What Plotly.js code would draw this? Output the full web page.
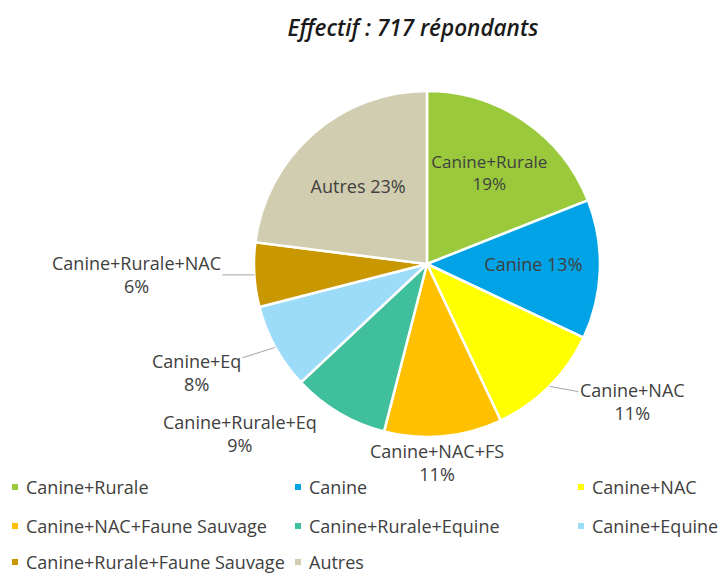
<!DOCTYPE html>
<html>
<head>
<meta charset="utf-8">
<script src="https://cdn.plot.ly/plotly-3.0.1.min.js"></script>
<style>html,body{margin:0;padding:0;background:#fff;}#chart{width:724px;height:575px;}</style>
</head>
<body>
<div id="chart"></div>
<script>
// Data
const legendNames = ["Canine+Rurale", "Canine", "Canine+NAC", "Canine+NAC+Faune Sauvage", "Canine+Rurale+Equine", "Canine+Equine", "Canine+Rurale+Faune Sauvage", "Autres"];
const sliceNames = ["Canine+Rurale", "Canine", "Canine+NAC", "Canine+NAC+FS", "Canine+Rurale+Eq", "Canine+Eq", "Canine+Rurale+NAC", "Autres"];
const percents = [19, 13, 11, 11, 9, 8, 6, 23];
const titleText = "Effectif : 717 répondants";

// Styles
const colors = ["#9ACA3C", "#00A3E6", "#FFFF00", "#FFC000", "#3FBF9B", "#9DDCF9", "#C99700", "#D1CDB0"];
const inside = [true, true, false, false, false, false, false, true];
const oneLine = [false, true, false, false, false, false, false, true];
// outside label placement relative to the slice's rim point (pixels), and leader line flag
const labelOffset = [null, null, [83, 15], [-6, 26], [-99, 21], [-79, 25], [-118, 0], null];
const leader = [false, false, true, false, false, true, true, false];
const FONT = "'Open Sans', Lato, sans-serif";
const TXT = "#404040";
const W = 724, H = 575;
const CX = 427, CY = 264, R = 173;

const trace = {
  type: "pie",
  labels: legendNames,
  values: percents,
  customdata: sliceNames,
  texttemplate: oneLine.map(o => o ? "%{customdata} %{percent:.0%}" : "%{customdata}<br>%{percent:.0%}"),
  textposition: inside.map(v => v ? "inside" : "none"),
  insidetextorientation: "horizontal",
  hoverinfo: "label+percent",
  sort: false,
  direction: "clockwise",
  rotation: 0,
  showlegend: false,
  marker: { colors: colors, line: { color: "#ffffff", width: 2.5 } },
  textfont: { family: FONT, size: 18, color: TXT },
  insidetextfont: { family: FONT, size: 18, color: TXT },
  domain: { x: [(CX - R) / W, (CX + R) / W], y: [1 - (CY + R) / H, 1 - (CY - R) / H] },
  automargin: false
};

const shapes = [], annotations = [];

// Outside slice labels anchored at the slice's mid-angle on the rim (computed from the values)
const total = percents.reduce((a, b) => a + b, 0);
let cum = 0;
percents.forEach((v, i) => {
  const mid = (cum + v / 2) / total;
  cum += v;
  if (inside[i]) return;
  const th = mid * 2 * Math.PI;
  const px = CX + R * Math.sin(th), py = CY - R * Math.cos(th);
  const [dx, dy] = labelOffset[i];
  const text = sliceNames[i] + "<br>" + Math.round(v / total * 100) + "%";
  const base = {
    xref: "paper", yref: "paper", x: px / W, y: 1 - py / H,
    text: text, font: { family: FONT, size: 18, color: TXT },
    align: "center", xanchor: "center", yanchor: "middle"
  };
  if (leader[i]) {
    annotations.push(Object.assign(base, {
      showarrow: true, arrowhead: 0, arrowwidth: 1, arrowcolor: "#A6A6A6",
      standoff: 0, startstandoff: 0, ax: dx, ay: dy
    }));
  } else {
    annotations.push(Object.assign(base, { showarrow: false, xshift: dx, yshift: -dy }));
  }
});

// Legend laid out as a 3-column grid (layout positions in pixels)
const colMarkerX = [12, 295, 578];
const rowY = [487, 526, 562];
legendNames.forEach((name, i) => {
  const c = i % 3, r = Math.floor(i / 3);
  const mx = colMarkerX[c], my = rowY[r];
  shapes.push({
    type: "rect", xref: "paper", yref: "paper", layer: "above",
    x0: mx / W, x1: (mx + 6) / W, y0: 1 - (my + 3) / H, y1: 1 - (my - 3) / H,
    fillcolor: colors[i], line: { width: 0 }
  });
  annotations.push({
    xref: "paper", yref: "paper", x: (mx + 12) / W, y: 1 - my / H,
    xanchor: "left", yanchor: "middle", showarrow: false,
    text: name, font: { family: FONT, size: 18, color: TXT }
  });
});

const layout = {
  width: W, height: H,
  margin: { l: 0, r: 0, t: 0, b: 0 },
  paper_bgcolor: "#ffffff",
  showlegend: false,
  title: {
    text: titleText,
    font: { family: FONT, size: 22.5, color: "#1a1a1a", style: "italic", weight: 600 },
    x: 413 / W, xanchor: "center", xref: "paper",
    y: 1 - 28 / H, yanchor: "middle", yref: "container"
  },
  shapes: shapes,
  annotations: annotations
};

Plotly.newPlot("chart", [trace], layout, { displayModeBar: false, staticPlot: true });
</script>
</body>
</html>
